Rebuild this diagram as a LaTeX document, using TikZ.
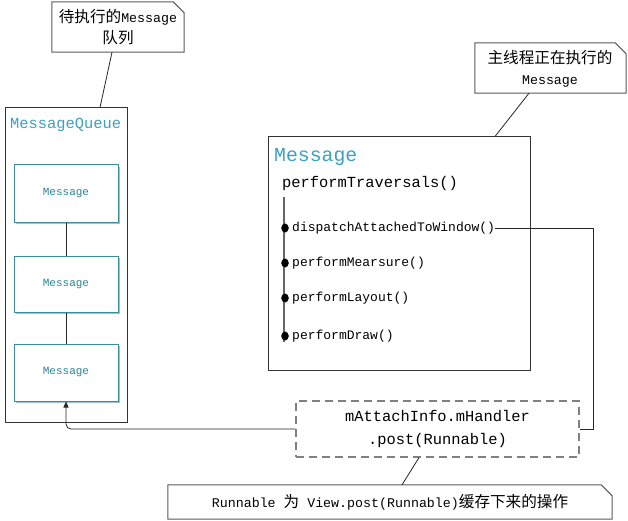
\documentclass[tikz,border=0pt]{standalone}
\usepackage{fontspec}
\setmonofont{Liberation Mono}
\newfontfamily\cjk{Noto Sans CJK SC}
\usetikzlibrary{calc,arrows.meta}
\definecolor{titleblue}{RGB}{62,160,192}
\definecolor{msgteal}{RGB}{44,133,150}
\definecolor{boxteal}{RGB}{59,140,156}
\definecolor{boxshadow}{RGB}{157,195,206}
\definecolor{notegray}{RGB}{90,90,90}
\tikzset{
  notebg/.style={inner sep=0pt, align=center, font=\ttfamily},
  notetext/.style={inner sep=0pt, align=center, font=\ttfamily\fontsize{13.3}{21}\selectfont},
  notefold/.style={draw=notegray, line width=1pt, fill=white},
  frame/.style={draw=black!80, line width=1pt},
  innerbox/.style={draw=boxteal, line width=1pt, minimum width=104pt, inner sep=0pt, font=\ttfamily\fontsize{11}{13}\selectfont, text=msgteal},
  lbl/.style={anchor=west, inner sep=0pt, font=\ttfamily},
  bullet/.style={ellipse, fill=black, draw=black, inner sep=0pt, minimum width=7pt, minimum height=8.5pt},
  conn/.style={draw=black!85, line width=0.8pt},
  dashbox/.style={draw=gray, line width=1.2pt, dash pattern=on 8pt off 5pt, minimum width=283pt, minimum height=56pt, align=center, font=\ttfamily\fontsize{15.4}{23}\selectfont}
}
\usetikzlibrary{shapes.geometric}
\newcommand{\foldnote}[1]{%
  \draw[notefold] (#1.north west) -- ($(#1.north east)+(-11,0)$) -- ($(#1.north east)+(0,11)$) -- (#1.south east) -- (#1.south west) -- cycle;
}
\begin{document}
\begin{tikzpicture}[x=1pt,y=-1pt]
\useasboundingbox (0,0) rectangle (628,521);
\fill[white] (0,0) rectangle (628,521);

% MessageQueue
\node[frame, minimum width=122pt, minimum height=314pt] (mq) at (66,265) {};
\node[lbl, text=titleblue, font=\ttfamily\fontsize{15.4}{18}\selectfont] (mqt) at (10,125) {MessageQueue};
\foreach \n/\y/\h in {b1/193.5/57, b2/284/56, b3/372.5/57}{
  \fill[boxshadow] (16,\y-\h/2+2) rectangle (119.5,\y+\h/2+1.5);
  \node[innerbox, minimum height=\h pt, fill=white] (\n) at (66,\y) {Message};
}
\draw[conn] (b1.south) -- (b2.north);
\draw[conn] (b2.south) -- (b3.north);

% Message box
\node[frame, minimum width=262pt, minimum height=233pt] (msg) at (399,253.5) {};
\node[lbl, text=titleblue, font=\ttfamily\fontsize{19.8}{22}\selectfont] (msgt) at (274,157) {Message};
\node[lbl, font=\ttfamily\fontsize{15.4}{18}\selectfont] (pt) at (282,184) {performTraversals()};
\coordinate (vtop) at (284,197);
\coordinate (vbot) at (284,342);
\draw[draw=black!60, line width=1.4pt] (vtop) -- (vbot);
\foreach \n/\y/\t in {d1/228/dispatchAttachedToWindow(), d2/263/performMearsure(), d3/298/performLayout(), d4/336/performDraw()}{
  \node[bullet] (\n dot) at (285,\y) {};
  \node[lbl, font=\ttfamily\fontsize{13}{15}\selectfont] (\n) at (292,\y) {\t};
}

% dashed handler box
\node[dashbox] (dash) at (437.5,429) {mAttachInfo.mHandler\\.post(Runnable)};
\coordinate (rc1) at (593,228);
\coordinate (rc2) at (593,429);
\draw[conn] (d1.east) -- (rc1) -- (rc2) -- (dash.east);
\coordinate (lc) at (66,429);
\draw[conn, rounded corners=5pt, -{Triangle[length=6pt,width=5pt]}] (dash.west) -- (lc) -- (b3.south);

% Notes
\node[notebg, minimum width=132pt, minimum height=50pt] (n1) at (118,27) {};
\foldnote{n1}
\node[notetext] (n1t) at (118,27) {{\cjk\fontsize{15.6}{18}\selectfont 待执行的}Message\\{\cjk\fontsize{15.6}{18}\selectfont 队列}};
\draw[conn] ([xshift=-6pt]n1.south) -- ([xshift=34pt]mq.north);

\node[notebg, minimum width=151pt, minimum height=50pt] (n2) at (550.5,68) {};
\foldnote{n2}
\node[notetext] (n2t) at (550,69) {{\cjk\fontsize{15.6}{18}\selectfont 主线程正在执行的}\\Message};
\draw[conn] ([xshift=-21.5pt]n2.south) -- ([xshift=96pt]msg.north);

\node[notebg, minimum width=444pt, minimum height=34pt] (n3) at (390,502) {};
\foldnote{n3}
\node[notetext] (n3t) at (390,502) {Runnable {\cjk\fontsize{15.6}{18}\selectfont 为} View.post(Runnable){\cjk\fontsize{15.6}{18}\selectfont 缓存下来的操作}};
\draw[conn] ([xshift=-18.5pt]dash.south) -- ([xshift=12pt]n3.north);
\end{tikzpicture}
\end{document}
